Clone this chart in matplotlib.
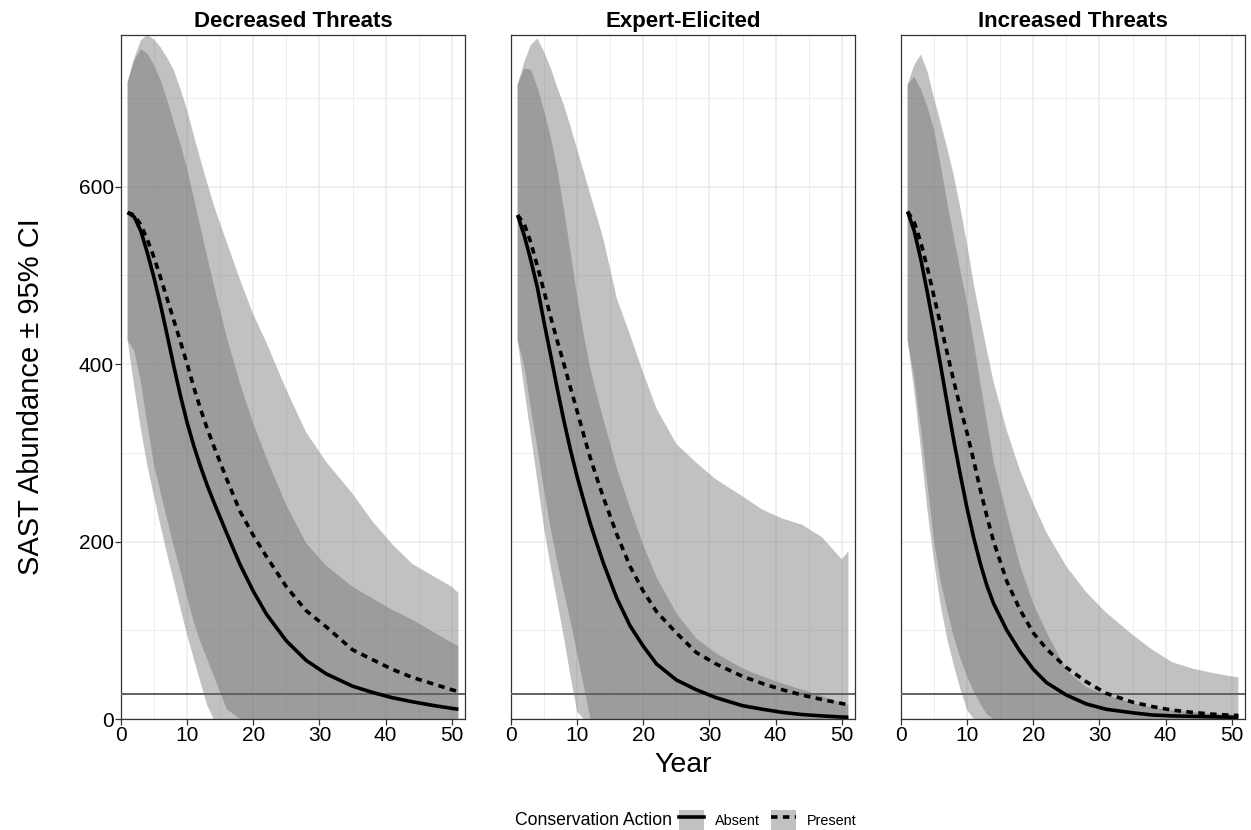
import matplotlib
matplotlib.use("Agg")
import matplotlib.pyplot as plt
from matplotlib.patches import Patch
from matplotlib.lines import Line2D
from matplotlib.legend_handler import HandlerTuple

plt.rcParams["font.family"] = ["Liberation Sans", "DejaVu Sans"]

# ---------------- data ----------------
years = [1, 2, 3, 4, 5, 6, 7, 8, 9, 10, 11, 12, 13, 14, 16, 18, 20, 22, 25, 28, 31, 35, 38, 41, 44, 47, 50, 51]

scenarios = ["Decreased Threats", "Expert-Elicited", "Increased Threats"]
threshold = 28
x_ticks = [0, 10, 20, 30, 40, 50]
y_ticks = [0, 200, 400, 600]

# Decreased Threats
dec_absent_mean = [571, 566, 550, 525, 497, 466, 432, 397, 364, 334, 308, 285, 264, 245, 209, 174, 144, 118, 88, 66, 51, 37, 30, 24, 19.5, 15.5, 12, 11]
dec_absent_lo = [427, 375, 327, 285, 251, 217, 185, 155, 124, 95, 68, 42, 16, 0, 0, 0, 0, 0, 0, 0, 0, 0, 0, 0, 0, 0, 0, 0]
dec_absent_hi = [718, 742, 755, 750, 737, 720, 697, 672, 648, 620, 588, 555, 522, 490, 430, 378, 333, 294, 241, 198, 173, 149, 136, 123, 112, 99, 86, 82]
dec_present_mean = [571, 568, 557, 540, 520, 497, 473, 449, 425, 400, 374, 350, 328, 308, 270, 234, 207, 183, 149, 122, 104, 78, 67, 56, 47, 40, 33, 31]
dec_present_lo = [427, 415, 380, 331, 286, 255, 224, 194, 166, 137, 109, 87, 68, 49, 11, 0, 0, 0, 0, 0, 0, 0, 0, 0, 0, 0, 0, 0]
dec_present_hi = [718, 745, 765, 771, 766, 757, 745, 731, 710, 686, 658, 631, 605, 580, 537, 495, 456, 424, 371, 323, 290, 254, 223, 197, 175, 162, 149, 142]

# Expert-Elicited
exp_absent_mean = [568, 545, 517, 486, 447, 410, 372, 336, 303, 273, 246, 220, 197, 175, 136, 105, 82, 62, 44, 33, 24, 15, 11, 7.5, 5, 3.5, 2.2, 2]
exp_absent_lo = [427, 372, 320, 268, 215, 172, 132, 92, 48, 8, 0, 0, 0, 0, 0, 0, 0, 0, 0, 0, 0, 0, 0, 0, 0, 0, 0, 0]
exp_absent_hi = [715, 733, 732, 712, 686, 656, 620, 575, 526, 476, 433, 395, 365, 337, 283, 238, 196, 160, 119, 91, 74, 57, 48, 40, 33, 26, 18, 16]
exp_present_mean = [568, 558, 537, 510, 482, 453, 426, 400, 373, 347, 320, 294, 271, 249, 208, 172, 144, 121, 97, 75, 62, 48, 40, 33, 27, 22, 17.5, 16]
exp_present_lo = [427, 398, 350, 305, 258, 214, 177, 143, 110, 74, 37, 0, 0, 0, 0, 0, 0, 0, 0, 0, 0, 0, 0, 0, 0, 0, 0, 0]
exp_present_hi = [715, 740, 760, 767, 752, 734, 712, 692, 668, 642, 617, 591, 566, 540, 474, 433, 390, 350, 310, 289, 270, 251, 236, 226, 219, 205, 180, 189]

# Increased Threats
inc_absent_mean = [572, 550, 518, 480, 440, 398, 355, 313, 274, 237, 204, 175, 150, 130, 100, 76, 56, 41, 27, 17, 11, 7, 4.5, 3.5, 3, 2.5, 2, 2]
inc_absent_lo = [427, 370, 305, 235, 178, 128, 90, 60, 33, 10, 0, 0, 0, 0, 0, 0, 0, 0, 0, 0, 0, 0, 0, 0, 0, 0, 0, 0]
inc_absent_hi = [715, 724, 710, 690, 664, 625, 582, 543, 505, 468, 425, 378, 335, 290, 230, 173, 130, 98, 55, 36, 27, 18, 13, 10, 8, 6, 5, 4.5]
inc_present_mean = [572, 560, 537, 508, 476, 444, 412, 380, 350, 322, 291, 258, 228, 200, 155, 123, 97, 79, 58, 42, 29, 19, 14, 10, 7.5, 5.5, 4.2, 4]
inc_present_lo = [427, 385, 328, 265, 200, 155, 122, 92, 68, 48, 31, 17, 5, 0, 0, 0, 0, 0, 0, 0, 0, 0, 0, 0, 0, 0, 0, 0]
inc_present_hi = [715, 737, 749, 730, 700, 672, 643, 612, 575, 535, 490, 452, 415, 380, 325, 280, 243, 210, 172, 143, 120, 95, 78, 64, 57, 52, 48, 47]

panels = [
    (dec_absent_mean, dec_absent_lo, dec_absent_hi, dec_present_mean, dec_present_lo, dec_present_hi),
    (exp_absent_mean, exp_absent_lo, exp_absent_hi, exp_present_mean, exp_present_lo, exp_present_hi),
    (inc_absent_mean, inc_absent_lo, inc_absent_hi, inc_present_mean, inc_present_lo, inc_present_hi),
]

# ---------------- style ----------------
W, H = 1251, 830
fig = plt.figure(figsize=(W / 100, H / 100), dpi=100)
fig.patch.set_facecolor("white")

band_color = "#666666"
band_alpha = 0.4
grid_color = "#ebebeb"
border_color = "#333333"
dash_pattern = (1.8, 1.5)
lw_main = 2.6

panel_left = [121, 511, 901]
panel_w = 344
panel_top, panel_bottom = 35, 719

for i, (name, data) in enumerate(zip(scenarios, panels)):
    am, alo, ahi, pm, plo, phi = data
    ax = fig.add_axes([panel_left[i] / W, (H - panel_bottom) / H,
                       panel_w / W, (panel_bottom - panel_top) / H])
    ax.set_xlim(0, 52)
    ax.set_ylim(0, 771)
    ax.set_xticks(x_ticks)
    ax.set_xticks([5, 15, 25, 35, 45], minor=True)
    ax.set_yticks(y_ticks)
    ax.set_yticks([100, 300, 500, 700], minor=True)
    ax.grid(which="major", color=grid_color, lw=1.1)
    ax.grid(which="minor", color=grid_color, lw=0.6)
    ax.set_axisbelow(True)

    ax.fill_between(years, plo, phi, facecolor=band_color, alpha=band_alpha, lw=0)
    ax.fill_between(years, alo, ahi, facecolor=band_color, alpha=band_alpha, lw=0)
    ax.axhline(threshold, color="#626262", lw=1.4, zorder=3)
    ax.plot(years, am, color="black", lw=lw_main, solid_capstyle="butt", zorder=4)
    ax.plot(years, pm, color="black", lw=lw_main, dashes=dash_pattern, zorder=4)

    for sp in ax.spines.values():
        sp.set_color(border_color)
        sp.set_linewidth(0.9)
    ax.tick_params(which="major", length=4, width=0.9, color=border_color,
                   labelsize=15, labelcolor="black", pad=1)
    ax.tick_params(which="minor", length=0)
    if i > 0:
        ax.tick_params(axis="y", which="major", length=0, labelleft=False)
    ax.set_title(name, fontsize=16, fontweight="bold", pad=6)

fig.text(31 / W, 1 - 397 / H, "SAST Abundance \u00b1 95% CI", rotation=90,
         fontsize=21, ha="center", va="center")
fig.text(683 / W, 1 - 765 / H, "Year", fontsize=20.5, ha="center", va="center")

# legend
fig.text(515 / W, 1 - 820 / H, "Conservation Action", fontsize=12.7, ha="left", va="center")
h_abs = (Patch(facecolor=band_color, alpha=band_alpha, edgecolor="none"),
         Line2D([], [], color="black", lw=lw_main))
h_pre = (Patch(facecolor=band_color, alpha=band_alpha, edgecolor="none"),
         Line2D([], [], color="black", lw=lw_main, dashes=dash_pattern))
fig.legend([h_abs, h_pre], ["Absent", "Present"],
           handler_map={tuple: HandlerTuple(ndivide=1, pad=0)},
           loc="center left", bbox_to_anchor=(679 / W, 1 - 820 / H), ncol=2,
           frameon=False, fontsize=10.4, handlelength=1.75, handleheight=1.75,
           handletextpad=0.75, columnspacing=0.75, borderpad=0, borderaxespad=0)

fig.savefig("out.png", dpi=100)
